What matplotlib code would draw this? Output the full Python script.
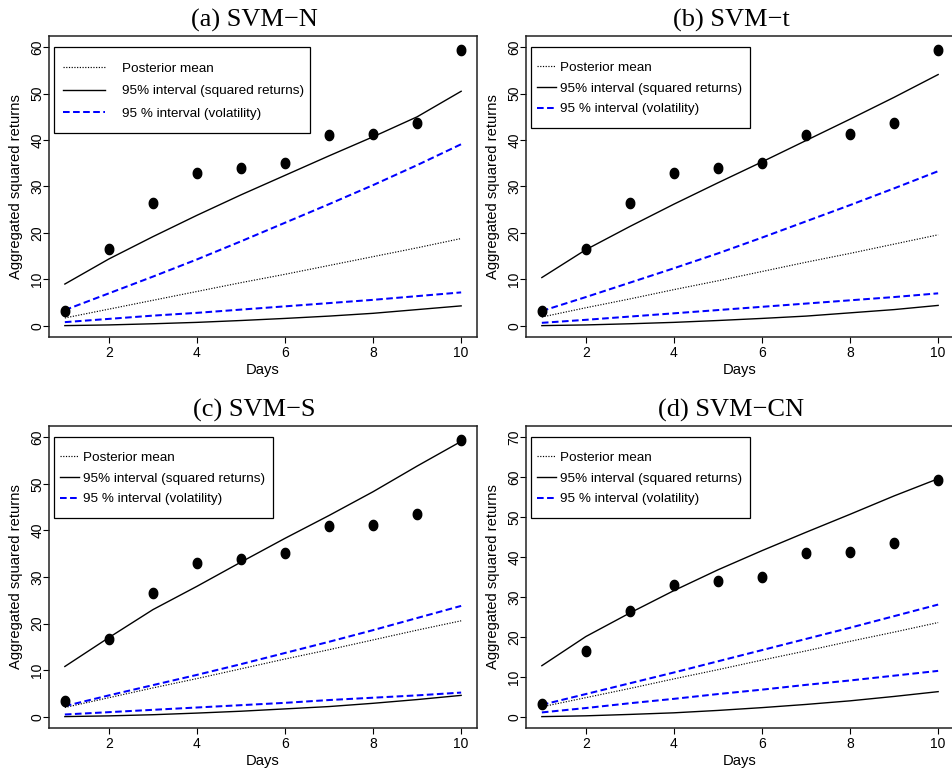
import numpy as np
import matplotlib
matplotlib.use('Agg')
import matplotlib.pyplot as plt
from matplotlib.lines import Line2D
from matplotlib.patches import Rectangle

plt.rcParams['font.family'] = ['Liberation Sans', 'DejaVu Sans']

# Gün ve gözlenen toplam kare getiriler
days = [1, 2, 3, 4, 5, 6, 7, 8, 9, 10]
observed = [3.3, 16.6, 26.5, 32.9, 33.9, 35.1, 41.0, 41.2, 43.6, 59.3]

# (a) SVM-N
upper_sr_a = [9.0, 14.4, 19.2, 23.8, 28.2, 32.4, 36.6, 40.7, 45.0, 50.5]
lower_sr_a = [0.05, 0.2, 0.45, 0.75, 1.15, 1.6, 2.1, 2.7, 3.5, 4.3]
mean_a = [1.7, 3.6, 5.5, 7.4, 9.3, 11.1, 13.0, 14.9, 16.8, 18.8]
upper_vol_a = [3.4, 7.0, 10.6, 14.3, 18.2, 22.2, 26.2, 30.3, 34.6, 39.1]
lower_vol_a = [0.8, 1.5, 2.2, 2.8, 3.5, 4.2, 4.9, 5.6, 6.4, 7.2]

# (b) SVM-t
upper_sr_b = [10.4, 16.4, 21.4, 26.2, 30.8, 35.3, 39.9, 44.5, 49.2, 54.1]
lower_sr_b = [0.05, 0.2, 0.45, 0.75, 1.15, 1.6, 2.1, 2.8, 3.5, 4.4]
mean_b = [1.9, 3.9, 5.8, 7.8, 9.7, 11.7, 13.7, 15.6, 17.6, 19.6]
upper_vol_b = [3.2, 6.2, 9.3, 12.4, 15.6, 19.0, 22.5, 26.0, 29.6, 33.3]
lower_vol_b = [0.65, 1.3, 2.0, 2.7, 3.4, 4.1, 4.8, 5.5, 6.2, 7.0]

# (c) SVM-S
upper_sr_c = [10.8, 17.0, 23.0, 28.0, 33.2, 38.3, 43.2, 48.3, 53.8, 59.1]
lower_sr_c = [0.05, 0.2, 0.45, 0.8, 1.2, 1.7, 2.2, 2.9, 3.7, 4.6]
mean_c = [2.0, 4.1, 6.2, 8.2, 10.3, 12.4, 14.4, 16.5, 18.6, 20.6]
upper_vol_c = [2.3, 4.6, 6.8, 9.0, 11.3, 13.7, 16.1, 18.6, 21.2, 23.8]
lower_vol_c = [0.5, 1.0, 1.5, 2.0, 2.5, 3.0, 3.6, 4.1, 4.6, 5.2]

# (d) SVM-CN
upper_sr_d = [12.8, 20.1, 26.0, 31.6, 36.8, 41.6, 46.2, 50.7, 55.3, 59.6]
lower_sr_d = [0.05, 0.25, 0.6, 1.0, 1.6, 2.3, 3.1, 4.0, 5.1, 6.3]
mean_d = [2.5, 4.8, 7.1, 9.5, 11.8, 14.2, 16.5, 18.9, 21.2, 23.6]
upper_vol_d = [3.0, 5.7, 8.4, 11.1, 13.9, 16.7, 19.5, 22.3, 25.2, 28.1]
lower_vol_d = [1.1, 2.2, 3.4, 4.5, 5.7, 6.8, 8.0, 9.1, 10.3, 11.5]

titles = ['(a) SVM\u2212N', '(b) SVM\u2212t', '(c) SVM\u2212S', '(d) SVM\u2212CN']
x_ticks = [2, 4, 6, 8, 10]
y_ticks_abc = [0, 10, 20, 30, 40, 50, 60]
y_ticks_d = [0, 10, 20, 30, 40, 50, 60, 70]
legend_labels = ['Posterior mean', '95% interval (squared returns)',
                 '95 % interval (volatility)']

W, H = 952, 768
FS_LEG = 9.7
FS_TICK = 10
FS_LAB = 10.6

DOT = (0, (1, 1.3))
DASH = (0, (3.3, 1.7))
BLUE = '#0000ff'

# hafif eliptik nokta işareti
t = np.linspace(0, 2 * np.pi, 40)
dot_marker = np.column_stack([0.83 * np.cos(t), np.sin(t)])


def draw_panel(rect, title, upper_sr, lower_sr, mean, upper_vol, lower_vol,
               y_ticks, ylim, wide_legend):
    left, top, right, bottom = rect
    w, h = right - left, bottom - top
    ax = fig.add_axes([left / W, 1 - bottom / H, w / W, h / H])

    ax.plot(days, upper_sr, color='black', linewidth=1.0)
    ax.plot(days, lower_sr, color='black', linewidth=1.0)
    ax.plot(days, mean, color='black', linestyle=DOT, linewidth=0.85)
    ax.plot(days, upper_vol, color=BLUE, linestyle=DASH, linewidth=1.45)
    ax.plot(days, lower_vol, color=BLUE, linestyle=DASH, linewidth=1.45)
    ax.plot(days, observed, linestyle='none', marker=dot_marker, markersize=7.4,
            color='black')

    ax.set_xlim(0.64, 10.36)
    ax.set_ylim(*ylim)
    ax.set_xticks(x_ticks)
    ax.set_yticks(y_ticks)
    ax.tick_params(axis='both', direction='out', length=4.3, width=0.8,
                   labelsize=FS_TICK, color='black')
    ax.tick_params(axis='x', pad=2.5)
    ax.tick_params(axis='y', pad=-1.0)
    for lab in ax.get_yticklabels():
        lab.set_rotation(90)
        lab.set_va('center')
    for sp in ax.spines.values():
        sp.set_linewidth(1.1)
        sp.set_color('#222222')

    ax.set_xlabel('Days', fontsize=FS_LAB, labelpad=2.0)
    ax.set_ylabel('Aggregated squared returns', fontsize=FS_LAB, labelpad=5)
    ax.set_title(title, fontfamily='Liberation Serif', fontsize=19, pad=7, x=0.48)

    handles = [
        Line2D([0], [0], color='black', linestyle=DOT, linewidth=0.85),
        Line2D([0], [0], color='black', linewidth=1.0),
        Line2D([0], [0], color=BLUE, linestyle=DASH, linewidth=1.45),
    ]
    # legend çerçevesi ve içerik konumu (piksel, eksenin sol-üst köşesine göre)
    if wide_legend:
        frame_px = (5, 11, 261, 97)
        handle_x, mid_y = 14, 55
        opts = dict(handlelength=3.1, handletextpad=1.3, labelspacing=0.74)
    else:
        frame_px = (5, 11, 224, 92)
        handle_x, mid_y = 11, 52.3
        opts = dict(handlelength=1.4, handletextpad=0.3, labelspacing=0.62)

    fx0, fy0, fx1, fy1 = frame_px
    ax.add_patch(Rectangle((fx0 / w, 1 - fy1 / h), (fx1 - fx0) / w, (fy1 - fy0) / h,
                           transform=ax.transAxes, facecolor='white',
                           edgecolor='black', linewidth=0.9, zorder=4))
    leg = ax.legend(handles, legend_labels, loc='center left',
                    bbox_to_anchor=(handle_x / w, 1 - mid_y / h), borderaxespad=0,
                    borderpad=0, fontsize=FS_LEG, frameon=False, **opts)
    leg.set_zorder(5)
    return ax


fig = plt.figure(figsize=(W / 100, H / 100), dpi=100)

ylim_abc = (-2.4, 62.4)
ylim_d = (-2.8, 72.8)

draw_panel((49, 36, 477, 337), titles[0], upper_sr_a, lower_sr_a, mean_a,
           upper_vol_a, lower_vol_a, y_ticks_abc, ylim_abc, True)
draw_panel((526, 36, 954, 337), titles[1], upper_sr_b, lower_sr_b, mean_b,
           upper_vol_b, lower_vol_b, y_ticks_abc, ylim_abc, False)
draw_panel((49, 426, 477, 728), titles[2], upper_sr_c, lower_sr_c, mean_c,
           upper_vol_c, lower_vol_c, y_ticks_abc, ylim_abc, False)
draw_panel((526, 426, 954, 728), titles[3], upper_sr_d, lower_sr_d, mean_d,
           upper_vol_d, lower_vol_d, y_ticks_d, ylim_d, False)

fig.savefig('out.png', dpi=100)
